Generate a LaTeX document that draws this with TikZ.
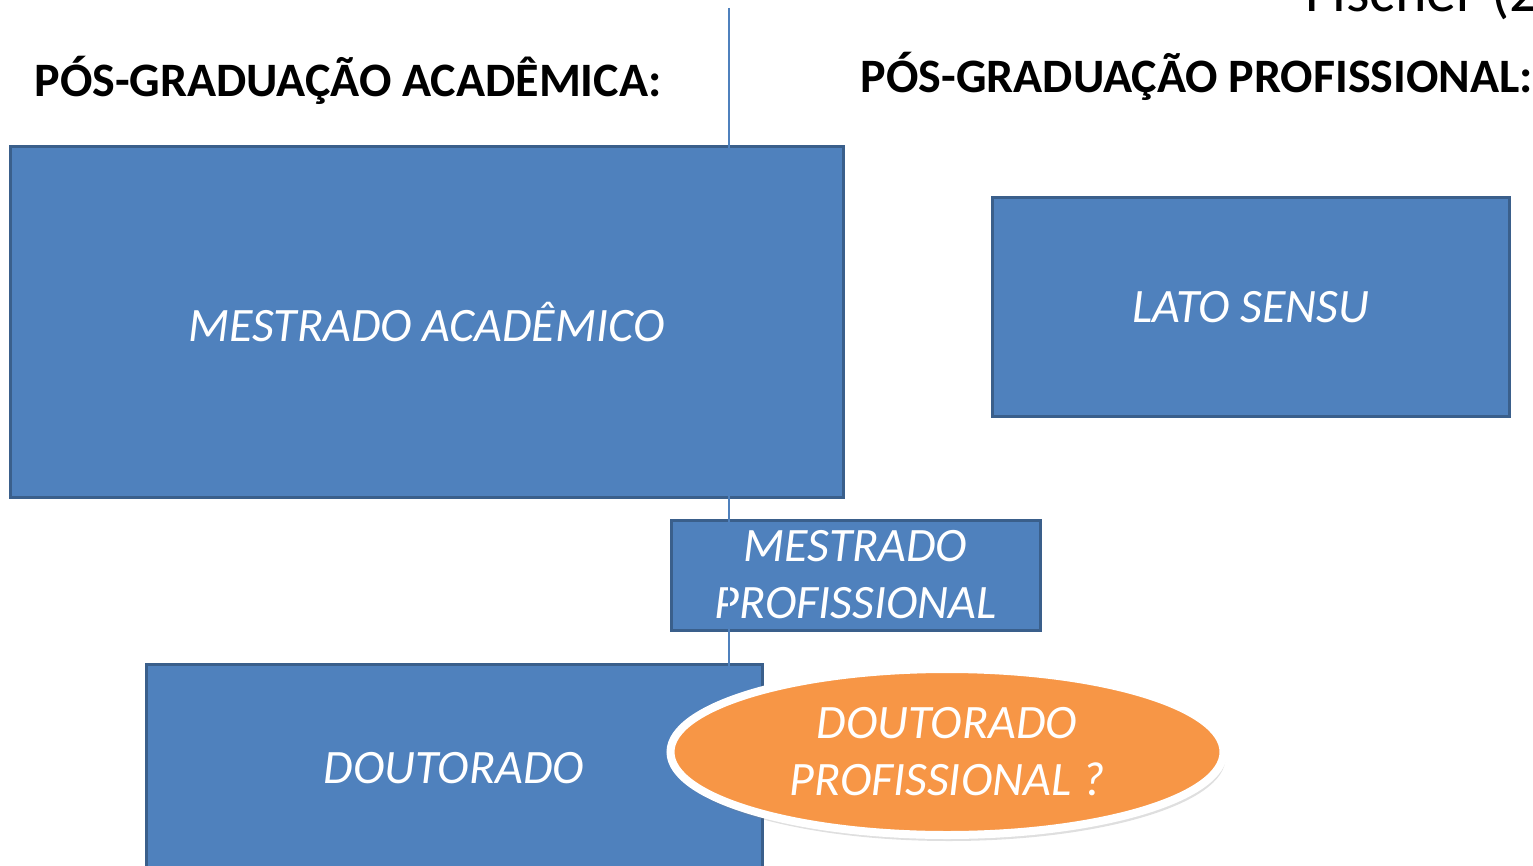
\documentclass[tikz,border=0pt]{standalone}
\usepackage{fontspec}
\setmainfont{Carlito}
\usetikzlibrary{shapes.geometric,shadows}

\definecolor{boxblue}{HTML}{4F81BD}
\definecolor{boxedge}{HTML}{3A5F8B}
\definecolor{ovalorange}{HTML}{F79646}

\begin{document}
\begin{tikzpicture}[x=1pt, y=-1pt,
    course/.style={rectangle, fill=boxblue, draw=boxedge, line width=3pt, text=white,
        align=center, font=\fontsize{48}{57}\selectfont\itshape, inner sep=0pt},
    heading/.style={font=\fontsize{48}{56}\selectfont\bfseries, inner sep=0pt}]

    % Canvas size and clipping
    \useasboundingbox (0, 0) rectangle (1533, 866);
    \clip (0, 0) rectangle (1533, 866);

    % Source label (cut off at the top)
    \node[anchor=base west, inner sep=0pt, font=\fontsize{60}{72}\selectfont] (source) at (1305, 12) {Fischer (2};

    % Headings
    \node[heading] (acad) at (348, 80) {PÓS-GRADUAÇÃO ACADÊMICA:};
    \node[heading] (prof) at (1197, 76) {PÓS-GRADUAÇÃO PROFISSIONAL:};

    % Blue boxes
    \node[course, minimum width=833, minimum height=350] (mestacad) at (426.5, 322) {MESTRADO ACADÊMICO};
    \node[course, minimum width=517, minimum height=218] (lato) at (1250.5, 307) {LATO SENSU};
    \node[course, minimum width=369, minimum height=110] (mestprof) at (855.5, 575) {MESTRADO\\PROFISSIONAL};
    \node[course, minimum width=616, minimum height=208] (dout) at (454, 768) {DOUTORADO};

    % Dividing line
    \coordinate (divtop) at (729, 8);
    \coordinate (divbot) at (729, 866);
    \draw[boxblue, line width=2pt] (divtop) -- (divbot);

    % Orange oval
    \node[ellipse, fill=ovalorange, draw=white, line width=8pt, minimum width=553, minimum height=166,
        text=white, align=center, font=\fontsize{48}{57}\selectfont\itshape, inner sep=0pt,
        drop shadow={shadow xshift=2pt, shadow yshift=-6pt, opacity=0.25}] (doutprof) at (947, 752)
        {DOUTORADO\\PROFISSIONAL ?};

\end{tikzpicture}
\end{document}
